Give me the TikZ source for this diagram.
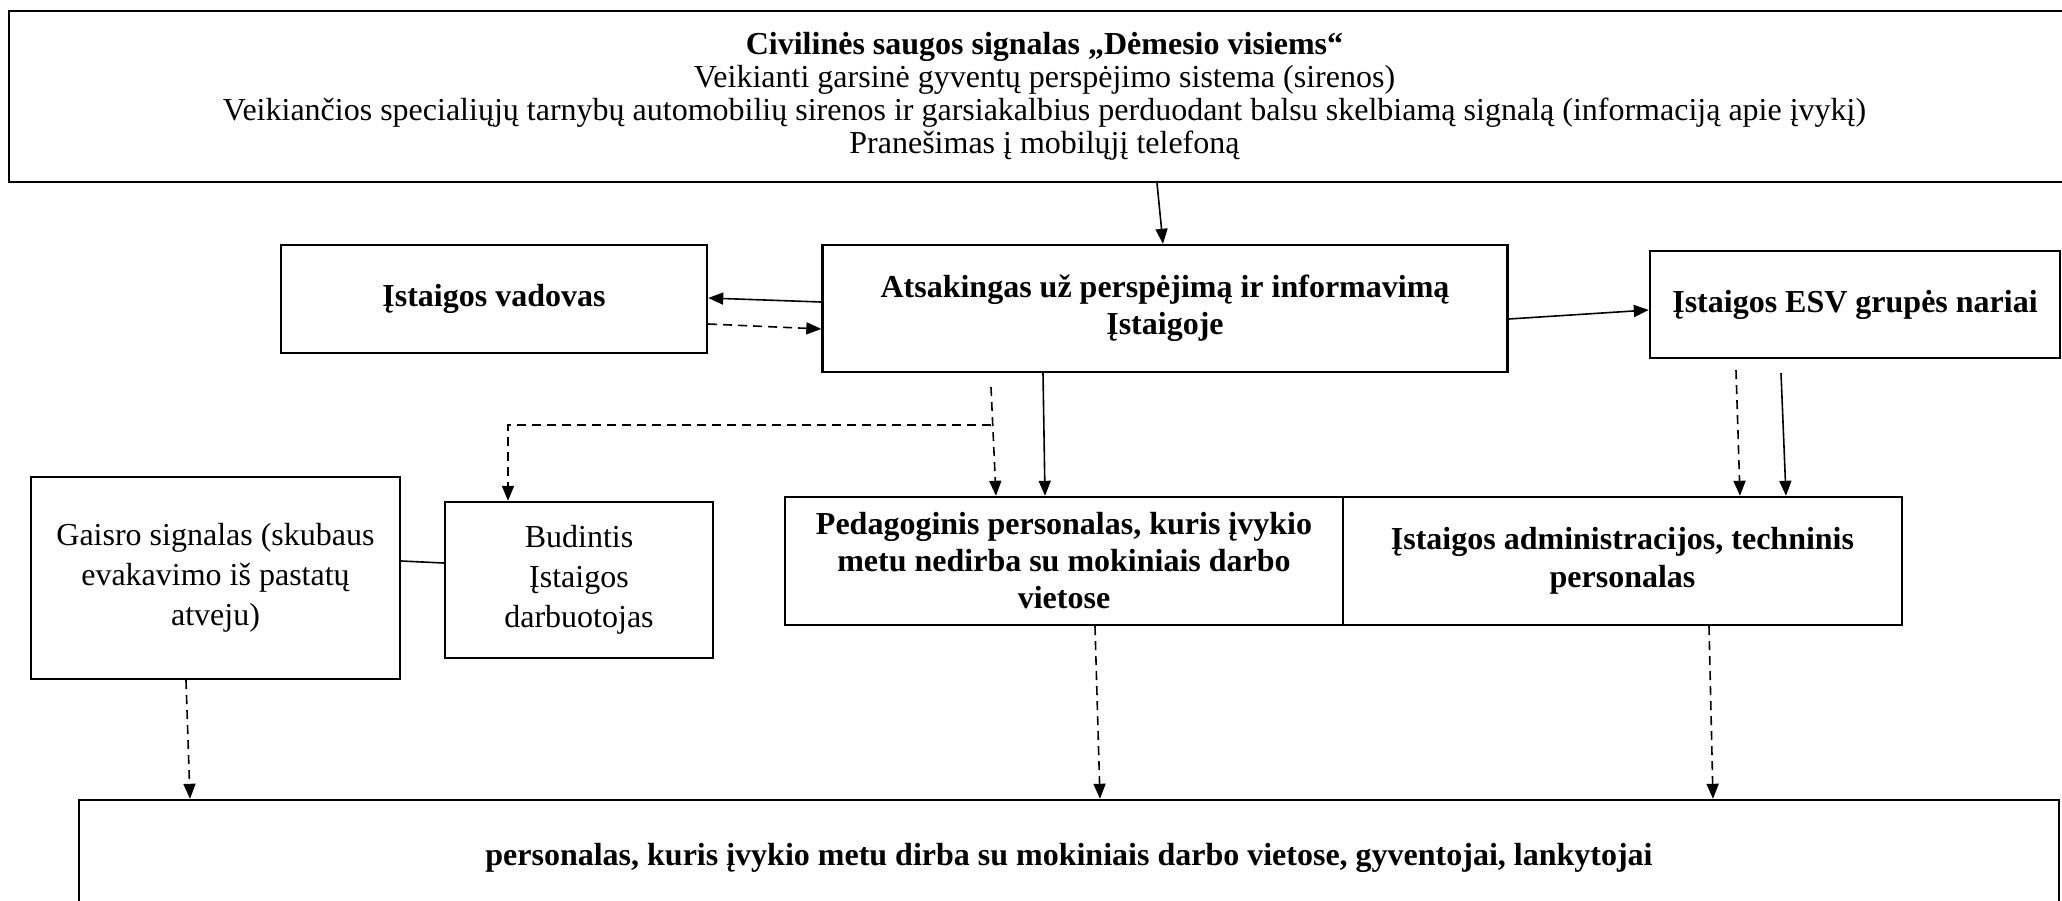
\documentclass[tikz,border=0pt]{standalone}
\usepackage{fontspec}
\setmainfont{Liberation Serif}
\usetikzlibrary{arrows.meta}
\usetikzlibrary{positioning}

\begin{document}
\begin{tikzpicture}[->,>={Triangle[length=15pt,width=12pt]},x=1pt,y=-1pt,line width=1.6pt,
    box/.style={draw=black,line width=2.4pt,align=center,inner sep=0pt},
    dsh/.style={dash pattern=on 9pt off 6pt}]
        \useasboundingbox (0,0) rectangle (2062,900);

            % Signal
            \node[box,minimum width=2071pt,minimum height=171pt,font=\fontsize{32}{33}\selectfont] (sig) at (1044.5,96.5) {\textbf{Civilinės saugos signalas „Dėmesio visiems“}\\Veikianti garsinė gyventų perspėjimo sistema (sirenos)\\Veikiančios specialiųjų tarnybų automobilių sirenos ir garsiakalbius perduodant balsu skelbiamą signalą (informaciją apie įvykį)\\Pranešimas į mobilųjį telefoną};

            % Middle row
            \node[box,minimum width=685pt,minimum height=127pt,font=\fontsize{32}{37}\selectfont\bfseries] (resp) at (1165,308.5) {Atsakingas už perspėjimą ir informavimą\\Įstaigoje};
            \node[box,minimum width=426pt,minimum height=108pt,font=\fontsize{32}{37}\selectfont\bfseries] (head) at (494,299) {Įstaigos vadovas};
            \node[box,minimum width=410pt,minimum height=107pt,font=\fontsize{32}{37}\selectfont\bfseries] (esv) at (1855,304.5) {Įstaigos ESV grupės nariai};

            % Staff nodes
            \node[box,minimum width=558pt,minimum height=128pt,font=\fontsize{32}{37}\selectfont\bfseries] (ped) at (1064,561) {Pedagoginis personalas, kuris įvykio\\metu nedirba su mokiniais darbo\\vietose};
            \node[box,minimum width=559pt,minimum height=128pt,font=\fontsize{32}{38}\selectfont\bfseries] (adm) at (1622.5,561) {Įstaigos administracijos, techninis\\personalas};
            \node[box,minimum width=369pt,minimum height=202pt,font=\fontsize{32}{40}\selectfont] (fire) at (215.5,578) {Gaisro signalas (skubaus\\evakavimo iš pastatų\\atveju)};
            \node[box,minimum width=268pt,minimum height=156pt,font=\fontsize{32}{40}\selectfont] (duty) at (579,580) {Budintis\\Įstaigos\\darbuotojas};

            % Everyone
            \node[box,minimum width=1980pt,minimum height=116pt,font=\fontsize{32}{37}\selectfont\bfseries] (all) at (1069,858) {personalas, kuris įvykio metu dirba su mokiniais darbo vietose, gyventojai, lankytojai};

            % Arrows from the signal down
            \path ([xshift=112.5pt]sig.south) edge ([xshift=-2pt]resp.north);
            \path ([yshift=6.5pt]resp.west) edge ([yshift=1pt]head.east);
            \path ([yshift=-25pt]head.east) edge[dsh] ([yshift=-20.5pt]resp.west);
            \path ([yshift=-10.5pt]resp.east) edge ([yshift=-5.5pt]esv.west);
            \path ([xshift=-174pt,yshift=-14pt]resp.south) edge[dsh] ([xshift=-68pt]ped.north);
            \path ([xshift=-122pt]resp.south) edge ([xshift=-19pt]ped.north);
            \coordinate (split) at ([xshift=-174pt,yshift=-52pt]resp.south);
            \draw[dsh] (split) -| ([xshift=-71pt]duty.north);
            \path ([xshift=-119pt,yshift=-11pt]esv.south) edge[dsh] ([xshift=117.5pt]adm.north);
            \path ([xshift=-74pt,yshift=-14pt]esv.south) edge ([xshift=163.5pt]adm.north);

            % Arrows to everyone
            \path ([yshift=17pt]fire.east) edge[-] ([yshift=17pt]duty.west);
            \path ([xshift=-29.5pt]fire.south) edge[dsh] ([xshift=-879pt]all.north);
            \path ([xshift=31pt]ped.south) edge[dsh] ([xshift=31pt]all.north);
            \path ([xshift=86.5pt]adm.south) edge[dsh] ([xshift=644pt]all.north);

        \end{tikzpicture}
\end{document}
